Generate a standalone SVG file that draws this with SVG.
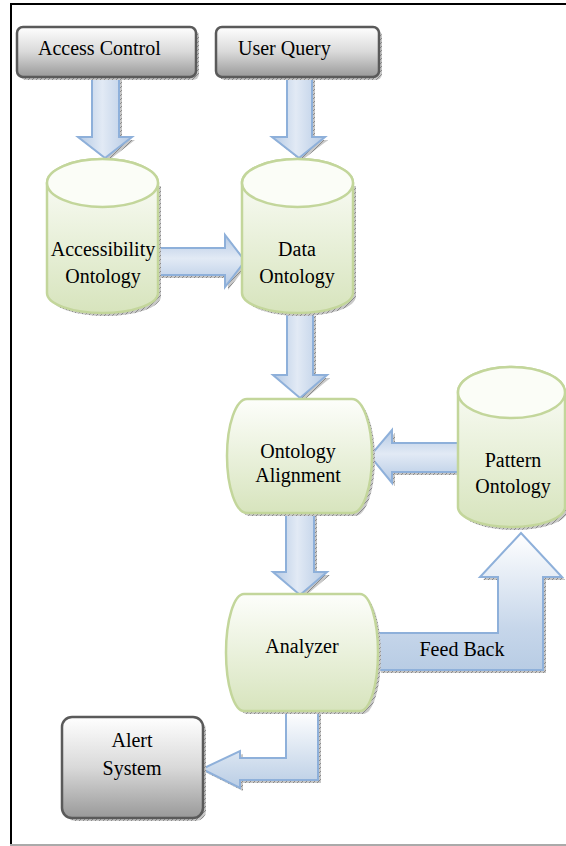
<svg xmlns="http://www.w3.org/2000/svg" width="566" height="846" viewBox="0 0 566 846">
<defs>
<style>
text{font-family:"Liberation Serif","Times New Roman",serif;font-size:20px;fill:#000;text-anchor:middle}
.gbox{fill:url(#gGray);stroke:#5a5a5a;stroke-width:2.5}
.grn{fill:url(#gGreen);stroke:#c3d69b;stroke-width:2.5}
.top{fill:#fbfdf7;stroke:#c3d69b;stroke-width:2.5}
.arr{stroke:#8eb0da;stroke-width:2;stroke-linejoin:miter}
.shd{fill:url(#hatch)}
</style>
<linearGradient id="gGray" x1="0" y1="0" x2="0" y2="1">
<stop offset="0" stop-color="#ffffff"/><stop offset="0.5" stop-color="#d9d9d9"/><stop offset="1" stop-color="#999999"/>
</linearGradient>
<linearGradient id="gGreen" x1="0" y1="0" x2="0" y2="1">
<stop offset="0" stop-color="#fdfefb"/><stop offset="1" stop-color="#d7e4bd"/>
</linearGradient>
<linearGradient id="gDown" x1="0" y1="0" x2="1" y2="0">
<stop offset="0" stop-color="#b4c9e4"/><stop offset="0.45" stop-color="#e2eaf5"/><stop offset="1" stop-color="#b4c9e4"/>
</linearGradient>
<linearGradient id="gSide" x1="0" y1="0" x2="0" y2="1">
<stop offset="0" stop-color="#b4c9e4"/><stop offset="0.45" stop-color="#e2eaf5"/><stop offset="1" stop-color="#b4c9e4"/>
</linearGradient>
<linearGradient id="gFeed" gradientUnits="userSpaceOnUse" x1="0" y1="533" x2="0" y2="670">
<stop offset="0" stop-color="#ffffff"/><stop offset="0.7" stop-color="#c6d6ea"/><stop offset="1" stop-color="#b8cce4"/>
</linearGradient>
<linearGradient id="gAlert" gradientUnits="userSpaceOnUse" x1="0" y1="711" x2="0" y2="790">
<stop offset="0" stop-color="#ffffff"/><stop offset="1" stop-color="#b8cce4"/>
</linearGradient>
<pattern id="hatch" width="4" height="4" patternUnits="userSpaceOnUse">
<rect width="4" height="4" fill="#c8c8c8"/><path d="M0,4 L4,0" stroke="#8a8a8a" stroke-width="1"/>
</pattern>
</defs>

<g id="frame">
<line x1="11" y1="4" x2="11" y2="845" stroke="#000" stroke-width="2"/>
<line x1="10" y1="4" x2="566" y2="4" stroke="#000" stroke-width="2"/>
<line x1="10" y1="845" x2="566" y2="845" stroke="#aaaaaa" stroke-width="2"/>
</g>

<g id="connectors">
<g id="c-access-down">
<path class="shd" d="M95,80 H122 V140 H135 L108,161 L81,140 H95 Z"/>
<path class="arr" fill="url(#gDown)" d="M92,77 H119 V137 H132 L105,158 L78,137 H92 Z"/>
</g>
<g id="c-query-down">
<path class="shd" d="M290,80 H315 V140 H328 L301,161 L275,140 H290 Z"/>
<path class="arr" fill="url(#gDown)" d="M287,77 H312 V137 H325 L299,158 L272,137 H287 Z"/>
</g>
<g id="c-access-data">
<path class="shd" d="M161,251 H228 V238 L248,264 L228,290 V278 H161 Z"/>
<path class="arr" fill="url(#gSide)" d="M158,248 H225 V235 L245,261 L225,287 V275 H158 Z"/>
</g>
<g id="c-data-align">
<path class="shd" d="M290,316 H316 V378 H330 L303,401 L276,378 H290 Z"/>
<path class="arr" fill="url(#gDown)" d="M287,313 H313 V375 H327 L300,398 L273,375 H287 Z"/>
</g>
<g id="c-pattern-align">
<path class="shd" d="M461,446 H395 V433 L373,459 L395,486 V475 H461 Z"/>
<path class="arr" fill="url(#gSide)" d="M458,443 H392 V430 L370,456 L392,483 V472 H458 Z"/>
</g>
<g id="c-align-analyzer">
<path class="shd" d="M289,516 H317 V575 H330 L303,598 L276,575 H289 Z"/>
<path class="arr" fill="url(#gDown)" d="M286,513 H314 V572 H327 L300,595 L273,572 H286 Z"/>
</g>
<g id="c-feedback">
<path class="shd" d="M381,636 H501 V580 H483 L524,536 L565,580 H546 V673 H381 Z"/>
<path class="arr" fill="url(#gFeed)" d="M378,633 H498 V577 H480 L521,533 L562,577 H543 V670 H378 Z"/>
<text x="462" y="656">Feed Back</text>
</g>
<g id="c-alert">
<path class="shd" d="M289,714 V761 H243 V754 L205,772 L243,791 V783 H321 V714 Z"/>
<path class="arr" fill="url(#gAlert)" d="M286,711 V758 H240 V751 L202,769 L240,788 V780 H318 V711 Z"/>
</g>
</g>

<g id="access-control">
<rect class="shd" x="20" y="30" width="179" height="50" rx="6"/>
<rect class="gbox" x="17" y="27" width="179" height="50" rx="6"/>
<text x="38" y="55" style="text-anchor:start">Access Control</text>
</g>

<g id="user-query">
<rect class="shd" x="219" y="30" width="163" height="50" rx="6"/>
<rect class="gbox" x="216" y="27" width="163" height="50" rx="6"/>
<text x="238" y="55" style="text-anchor:start">User Query</text>
</g>

<g id="accessibility-ontology">
<path class="shd" d="M50,186 V296 A55.5,20 0 0 0 161,296 V186 Z"/>
<path class="grn" d="M47,183 V293 A55.5,20 0 0 0 158,293 V183 A55.5,24 0 0 0 47,183 Z"/>
<ellipse class="top" cx="102.5" cy="183" rx="55.5" ry="24"/>
<text x="103" y="256">Accessibility</text>
<text x="103" y="283">Ontology</text>
</g>

<g id="data-ontology">
<path class="shd" d="M245,186 V296 A55.5,20 0 0 0 356,296 V186 Z"/>
<path class="grn" d="M242,183 V293 A55.5,20 0 0 0 353,293 V183 A55.5,24 0 0 0 242,183 Z"/>
<ellipse class="top" cx="297.5" cy="183" rx="55.5" ry="24"/>
<text x="297" y="256">Data</text>
<text x="297" y="283">Ontology</text>
</g>

<g id="pattern-ontology">
<path class="shd" d="M461,395 V510 A53.5,20 0 0 0 568,510 V395 Z"/>
<path class="grn" d="M458,392.5 V507 A53.5,20 0 0 0 565,507 V392.5 A53.5,25.5 0 0 0 458,392.5 Z"/>
<ellipse class="top" cx="511.5" cy="392.5" rx="53.5" ry="25.5"/>
<text x="513" y="467">Pattern</text>
<text x="513" y="493">Ontology</text>
</g>

<g id="ontology-alignment">
<path class="shd" d="M250,402 H355 A20,57 0 0 1 355,516 H250 A20,57 0 0 1 250,402 Z"/>
<path class="grn" d="M247,399 H352 A20,57 0 0 1 352,513 H247 A20,57 0 0 1 247,399 Z"/>
<text x="298" y="458">Ontology</text>
<text x="298" y="482">Alignment</text>
</g>

<g id="analyzer">
<path class="shd" d="M247,597 H363 A18,58.5 0 0 1 363,714 H247 A18,58.5 0 0 1 247,597 Z"/>
<path class="grn" d="M244,594 H360 A18,58.5 0 0 1 360,711 H244 A18,58.5 0 0 1 244,594 Z"/>
<text x="302" y="653">Analyzer</text>
</g>

<g id="alert-system">
<rect class="shd" x="65" y="720" width="141" height="101" rx="10"/>
<rect class="gbox" x="62" y="717" width="141" height="101" rx="10"/>
<text x="132" y="747">Alert</text>
<text x="132" y="775">System</text>
</g>
</svg>
